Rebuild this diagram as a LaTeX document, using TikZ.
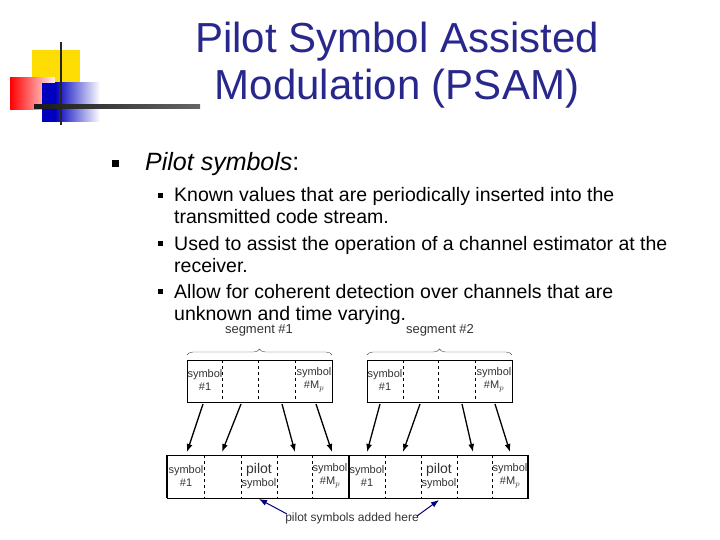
\documentclass[tikz,border=0pt]{standalone}
\usepackage{fontspec}
\setmainfont{Liberation Sans}
\usetikzlibrary{decorations.pathreplacing,arrows.meta}
\definecolor{titleblue}{RGB}{40,40,140}
\begin{document}
\begin{tikzpicture}[x=1pt,y=-1pt,
        txt/.style={anchor=base west, inner sep=0pt, font=\fontsize{19.5}{21}\selectfont},
        small/.style={inner sep=0pt, font=\fontsize{11}{13}\selectfont, align=center, text=black!80},
        sym/.style={-{Latex[length=8pt,width=6pt]}, line width=1.3pt},
        divider/.style={dashed, thin}
    ]
    \useasboundingbox (0,0) rectangle (720,540);

    % Logo
    \fill[yellow!80!orange] (32,50) rectangle (80,83);
    \shade[left color=red, right color=red!5] (10,78) rectangle (55,110);
    \fill[blue!75!black] (42,83) rectangle (55,122);
    \shade[left color=blue!75!black, right color=white] (55,83) rectangle (100,122);
    \draw[line width=2pt, black!85] (61,42) -- (61,125);
    \shade[left color=black!90, right color=black!60] (34,105) rectangle (200,109);

    % Title
    \node[font=\fontsize{42}{47}\selectfont, text=titleblue, align=center] (title) at (397,65) {Pilot Symbol Assisted\\Modulation (PSAM)};

    % Bullets
    \fill (112,160) rectangle (119,167);
    \node[txt, font=\fontsize{25}{28}\selectfont\itshape] (head) at (145,171) {Pilot symbols\upshape:};
    \foreach \y in {193,241,289}
        \fill (158,\y) rectangle (163,\y+5);
    \node[txt] (b1) at (174,202) {Known values that are periodically inserted into the};
    \node[txt] (b1b) at (174,224) {transmitted code stream.};
    \node[txt] (b2) at (174,250) {Used to assist the operation of a channel estimator at the};
    \node[txt] (b2b) at (174,272) {receiver.};
    \node[txt] (b3) at (174,298) {Allow for coherent detection over channels that are};
    \node[txt] (b3b) at (174,320) {unknown and time varying.};

    % Segments
    \node[small, font=\fontsize{13}{15}\selectfont] (seg1) at (259,330) {segment \#1};
    \node[small, font=\fontsize{13}{15}\selectfont] (seg2) at (440,330) {segment \#2};
    \draw[decorate, decoration={brace, amplitude=6pt}, black!70] (187,355) -- (332,355);
    \draw[decorate, decoration={brace, amplitude=6pt}, black!70] (367,355) -- (512,355);

    \draw (187,360) rectangle (332,402);
    \draw (367,360) rectangle (512,402);
    \foreach \x in {222,258,295,403,438,475}
        \draw[divider] (\x,360) -- (\x,402);
    \node[small] (t1) at (205,380) {symbol\\\#1};
    \node[small] (t2) at (314,380) {symbol\\\#M$_p$};
    \node[small] (t3) at (385,380) {symbol\\\#1};
    \node[small] (t4) at (494,380) {symbol\\\#M$_p$};

    % Bar
    \draw (167,455) rectangle (528,498);
    \foreach \x in {167,349,528}
        \draw[line width=2pt] (\x,455) -- (\x,498);
    \foreach \x in {204,241,277,312,385,421,457,492}
        \draw[divider] (\x,455) -- (\x,498);
    \node[small] (u1) at (186,476) {symbol\\\#1};
    \node[small] (u2) at (259,476) {\fontsize{14}{16}\selectfont pilot\\symbol};
    \node[small] (u3) at (330,476) {symbol\\\#M$_p$};
    \node[small] (u4) at (367,476) {symbol\\\#1};
    \node[small] (u5) at (439,476) {\fontsize{14}{16}\selectfont pilot\\symbol};
    \node[small] (u6) at (510,476) {symbol\\\#M$_p$};

    % Mapping arrows
    \foreach \a/\b in {203/187,241/222,282/295,316/332,380/367,420/403,462/473,495/510}
        \draw[sym] (\a,404) -- (\b,452);

    % Pilot note
    \node[small, anchor=base, font=\fontsize{12}{14}\selectfont] (note) at (352,521) {pilot symbols added here};
    \draw[sym, line width=1pt, blue!50!black] (287,514) -- (259,499);
    \draw[sym, line width=1pt, blue!50!black] (417,516) -- (439,500);
\end{tikzpicture}
\end{document}
